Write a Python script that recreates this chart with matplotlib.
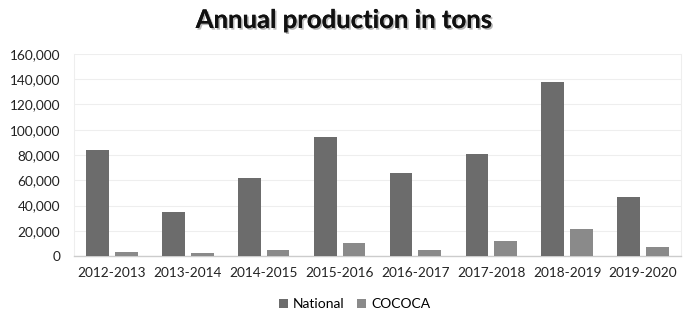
import matplotlib
matplotlib.use("Agg")
import matplotlib.pyplot as plt
import matplotlib.patheffects as pe
import numpy as np

categories = ["2012-2013", "2013-2014", "2014-2015", "2015-2016",
              "2016-2017", "2017-2018", "2018-2019", "2019-2020"]
national = [84000, 35000, 62000, 94000, 66000, 81000, 138000, 47000]
cococa = [3000, 2000, 5000, 10000, 5000, 12000, 21000, 7000]
series_names = ["National", "COCOCA"]
yticks = [0, 20000, 40000, 60000, 80000, 100000, 120000, 140000, 160000]

plt.rcParams['font.family'] = ['Lato', 'DejaVu Sans']

fig = plt.figure(figsize=(6.89, 3.13), dpi=100)
ax = fig.add_axes([74/689, 1-256/313, (681-74)/689, (256-54)/313])

x = np.arange(len(categories))
w = 0.30
gap = 0.08
c_nat = "#6c6c6c"
c_coc = "#8a8a8a"
ax.bar(x - (w + gap)/2, national, w, color=c_nat, label=series_names[0], zorder=3)
ax.bar(x + (w + gap)/2, cococa, w, color=c_coc, label=series_names[1], zorder=3)

ax.set_xlim(-0.5, len(categories) - 0.5)
ax.set_ylim(0, 160000)
ax.set_yticks(yticks)
ax.set_yticklabels([f"{v:,}" for v in yticks])
ax.set_xticks(x)
ax.set_xticklabels(categories)
ax.tick_params(axis='both', length=0, labelsize=9.8, colors="#222222")
ax.tick_params(axis='x', pad=8)
ax.tick_params(axis='y', pad=10)
ax.grid(axis='y', color="#eeeeee", linewidth=0.8, zorder=0)
for s in ["left", "right", "top"]:
    ax.spines[s].set_color("#eeeeee")
    ax.spines[s].set_linewidth(0.8)
ax.spines["top"].set_visible(False)
ax.spines["bottom"].set_color("#cccccc")
ax.spines["bottom"].set_linewidth(1.0)

fig.text(0.5, 1-20/313, "Annual production in tons", ha="center", va="center",
         fontsize=18.5, fontweight="bold", color="#111111",
         path_effects=[pe.withSimplePatchShadow(offset=(1.2, -1.2), shadow_rgbFace="#888888", alpha=0.6), pe.Normal()])

fig.legend(loc="center", bbox_to_anchor=(0.515, 1-304/313), ncol=2, frameon=False,
           fontsize=10, handlelength=0.6, handleheight=0.6, handletextpad=0.4,
           columnspacing=0.9)

fig.savefig("out.png", dpi=100)
